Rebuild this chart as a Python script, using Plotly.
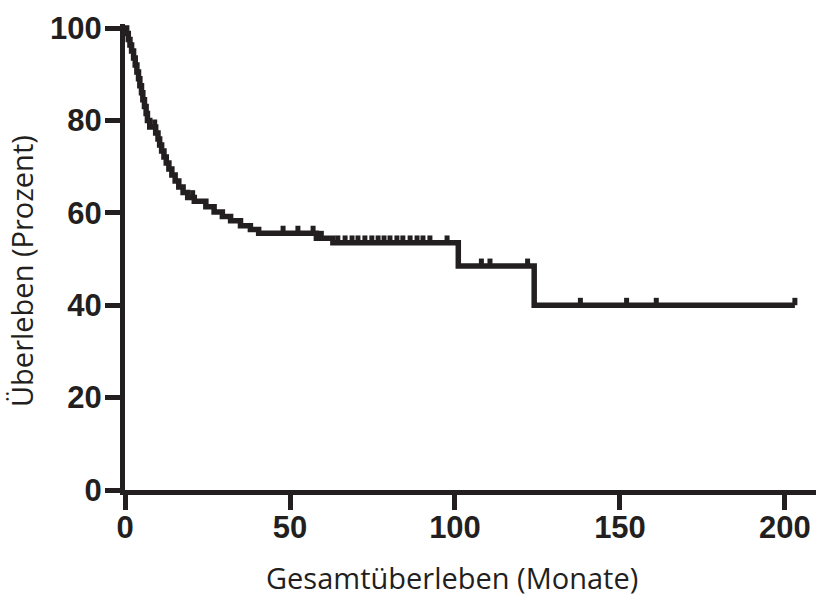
import numpy as np
import plotly.graph_objects as go

# Kaplan-Meier estimate: event times (months) and survival (%) after each event
event_months = [0, 0.5, 1.0, 1.5, 2.0, 2.6, 3.1, 3.6, 4.1, 4.5, 5.0, 5.4, 5.9, 6.4,
                6.8, 7.5, 9.3, 10.0, 10.5, 11.1, 11.8, 12.5, 13.3, 14.2, 15.2, 16.3,
                17.6, 19.0, 21.0, 24.5, 27.0, 29.5, 32.0, 35.0, 38.0, 40.5, 58.0,
                63.0, 101.0, 124.0]
survival_pct = [100, 98.8, 97.5, 96.3, 95.0, 93.5, 92.0, 90.5, 89.0, 87.5, 86.0, 84.5,
                83.0, 81.5, 80.0, 78.6, 77.3, 76.0, 74.7, 73.4, 72.1, 70.8, 69.5, 68.2,
                66.9, 65.6, 64.4, 63.3, 62.5, 61.3, 60.2, 59.2, 58.3, 57.2, 56.4, 55.6,
                54.5, 53.5, 48.5, 40.0]
last_followup = 203.0

# Censored observations (months)
censored_months = [9.0, 20.5, 47.9, 52.4, 57.0, 59.5, 64.5, 66.7, 68.8, 70.6, 72.7,
                   74.8, 76.7, 78.5, 80.3, 82.4, 84.2, 86.4, 88.5, 90.3, 92.4, 97.6,
                   108.0, 110.6, 122.0, 138.0, 152.0, 161.0, 203.0]

x_ticks = [0, 50, 100, 150, 200]
y_ticks = [0, 20, 40, 60, 80, 100]

x_title = "Gesamtüberleben (Monate)"
y_title = "Überleben (Prozent)"

INK = "#231f20"

step_x = event_months + [last_followup]
step_y = survival_pct + [survival_pct[-1]]

# survival level at each censoring time, read from the step function
idx = np.searchsorted(np.array(event_months), np.array(censored_months), side="right") - 1
censored_surv = np.array(survival_pct)[idx]

fig = go.Figure()
fig.add_trace(go.Scatter(
    x=step_x, y=step_y, mode="lines", line=dict(shape="hv", color=INK, width=5.5),
    hoverinfo="skip", showlegend=False,
))
fig.add_trace(go.Scatter(
    x=censored_months, y=censored_surv, mode="markers",
    marker=dict(size=1, color=INK, opacity=0),
    error_y=dict(type="data", symmetric=False, array=[1.6] * len(censored_months),
                 arrayminus=[0] * len(censored_months), color=INK, thickness=5, width=0),
    showlegend=False,
))

axis_common = dict(
    showgrid=False, zeroline=False, showline=True, linecolor=INK, linewidth=5,
    ticks="outside", ticklen=15, tickwidth=5, tickcolor=INK,
    tickfont=dict(family="Liberation Sans", size=31, color=INK, weight="bold"),
)

title_font = dict(family="Open Sans", size=29, color=INK)

fig.update_layout(
    width=816, height=596,
    margin=dict(l=125, r=0, t=24, b=106),
    paper_bgcolor="white", plot_bgcolor="white",
    xaxis=dict(range=[0, 209.4], tickvals=x_ticks, ticklabelstandoff=-9, **axis_common),
    yaxis=dict(range=[0, 100.87], tickvals=y_ticks, ticklabelstandoff=-3, **axis_common),
    annotations=[
        dict(text=x_title, xref="paper", yref="paper", x=0.473, y=-0.187,
             xanchor="center", yanchor="middle", showarrow=False, font=title_font),
        dict(text=y_title, xref="paper", yref="paper", x=-0.149, y=0.47,
             xanchor="center", yanchor="middle", textangle=-90, showarrow=False,
             font=title_font),
    ],
)

fig.write_html("out.html")
